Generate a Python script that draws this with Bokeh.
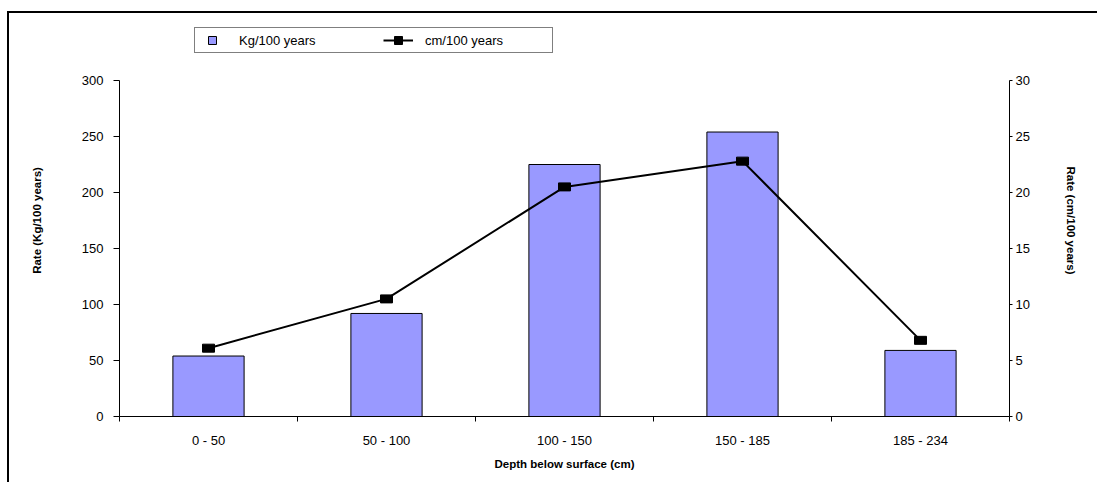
from bokeh.plotting import figure
from bokeh.models import (Range1d, LinearAxis, FixedTicker, Legend, LegendItem)
from bokeh.embed import file_html
from bokeh.resources import INLINE

# Sediment accumulation rates per depth interval
depths = ["0 - 50", "50 - 100", "100 - 150", "150 - 185", "185 - 234"]
kg_per_century = [54, 92, 225, 254, 59]
cm_per_century = [6.1, 10.5, 20.5, 22.8, 6.8]

kg_ticks = [0, 50, 100, 150, 200, 250, 300]
cm_ticks = [0, 5, 10, 15, 20, 25, 30]

FONT = "Liberation Sans"
BAR_COLOR = "#9999FF"
GRID_COLOR = "#6b6b6b"

# The plotting frame reaches up to hold the legend; the value axes
# themselves only span the tick range.
PLOT_H = 336          # height of the 0..max tick span, px
HEADROOM = 56         # space above it for the legend, px
FRAME_H = PLOT_H + HEADROOM
kg_top = kg_ticks[-1] * FRAME_H / PLOT_H
cm_top = cm_ticks[-1] * FRAME_H / PLOT_H

# interval centres and the boundaries between intervals
centres = [i + 0.5 for i in range(len(depths))]
bounds = list(range(len(depths) + 1))

p = figure(frame_width=890, frame_height=FRAME_H,
           x_range=Range1d(bounds[0], bounds[-1]),
           y_range=Range1d(kg_ticks[0], kg_top),
           output_backend="svg", toolbar_location=None,
           min_border_left=110, min_border_right=88,
           min_border_top=67 - HEADROOM, min_border_bottom=66,
           x_axis_type=None, y_axis_type=None)
p.margin = (11, 0, 0, 7)
p.styles = {"border-top": "2px solid black", "border-left": "2px solid black"}
p.outline_line_color = None
p.background_fill_color = "white"
p.border_fill_color = "white"
p.extra_y_ranges = {"cm": Range1d(cm_ticks[0], cm_top)}


def style_axis(ax):
    ax.axis_line_color = "black"
    ax.axis_line_width = 1
    ax.major_tick_line_color = "black"
    ax.minor_tick_line_color = "black"
    ax.major_tick_in = 0
    ax.minor_tick_in = 0
    ax.minor_tick_out = 0
    ax.major_label_text_font = FONT
    ax.major_label_text_font_size = "13px"
    ax.major_label_text_color = "black"
    ax.axis_label_text_font = FONT
    ax.axis_label_text_font_style = "bold"
    ax.axis_label_text_font_size = "11.5px"
    ax.axis_label_text_color = "black"


# left axis: mass rate
yl = LinearAxis(ticker=FixedTicker(ticks=kg_ticks, minor_ticks=[]),
                bounds=(kg_ticks[0], kg_ticks[-1]))
# right axis: thickness rate
yr = LinearAxis(y_range_name="cm", ticker=FixedTicker(ticks=cm_ticks, minor_ticks=[]),
                bounds=(cm_ticks[0], cm_ticks[-1]))
# bottom axis: labels at centres, tick marks at interval boundaries
xb = LinearAxis(ticker=FixedTicker(ticks=centres, minor_ticks=bounds),
                axis_label="Depth below surface (cm)",
                major_label_overrides={c: d for c, d in zip(centres, depths)})

# title-only axes, so the rotated titles sit a little above mid-height
yl_title = LinearAxis(ticker=FixedTicker(ticks=[], minor_ticks=[]),
                      axis_label="Rate (Kg/100 years)",
                      bounds=(kg_ticks[0], kg_ticks[-1] * 1.143))
yr_title = LinearAxis(y_range_name="cm", ticker=FixedTicker(ticks=[], minor_ticks=[]),
                      axis_label="Rate (cm/100 years)",
                      bounds=(cm_ticks[0], cm_ticks[-1] * 1.155))

for ax in (yl, yr, xb, yl_title, yr_title):
    style_axis(ax)
for ax in (yl_title, yr_title):
    ax.axis_line_color = None
    ax.major_tick_out = 0

yl.major_tick_out = 6
yl.major_label_standoff = 10
yr.major_tick_out = 3
yr.major_label_standoff = 3
xb.major_tick_out = 0
xb.minor_tick_out = 5
xb.major_label_standoff = 11
xb.axis_label_standoff = 7
yl_title.axis_label_standoff = 36
yr_title.axis_label_standoff = 32

p.add_layout(yl, "left")
p.add_layout(yl_title, "left")
p.add_layout(yr, "right")
p.add_layout(yr_title, "right")
p.add_layout(xb, "below")

p.xgrid.visible = False
p.ygrid.ticker = FixedTicker(ticks=kg_ticks, minor_ticks=[])
p.ygrid.grid_line_color = GRID_COLOR
p.ygrid.grid_line_width = 1

p.vbar(x=centres, top=kg_per_century, width=0.4, bottom=0,
       fill_color=BAR_COLOR, line_color="black", line_width=1)

cm_line = p.line(x=centres, y=cm_per_century, y_range_name="cm",
                 line_color="black", line_width=2)
p.rect(x=centres, y=cm_per_century, width=12, height=8,
       width_units="screen", height_units="screen", y_range_name="cm",
       fill_color="black", line_color="black")

# legend swatches (placeholder points that never land in the plot)
nan = float("nan")
kg_key = p.scatter(x=[nan], y=[nan], marker="square", fill_color=BAR_COLOR,
                   line_color="black", line_width=1)
cm_key_mark = p.scatter(x=[nan], y=[nan], marker="square", fill_color="black",
                        line_color="black")

legend = Legend(items=[LegendItem(label="Kg/100 years", renderers=[kg_key]),
                       LegendItem(label="cm/100 years", renderers=[cm_line, cm_key_mark])],
                orientation="horizontal", location=(75, 363), margin=0,
                glyph_width=30, glyph_height=20, padding=2, spacing=19,
                label_standoff=12, label_width=125,
                label_text_font=FONT, label_text_font_size="13px",
                label_text_color="black",
                border_line_color="black", border_line_width=1,
                background_fill_color="white", background_fill_alpha=1)
p.add_layout(legend)

open("out.html", "w").write(file_html(p, INLINE))
